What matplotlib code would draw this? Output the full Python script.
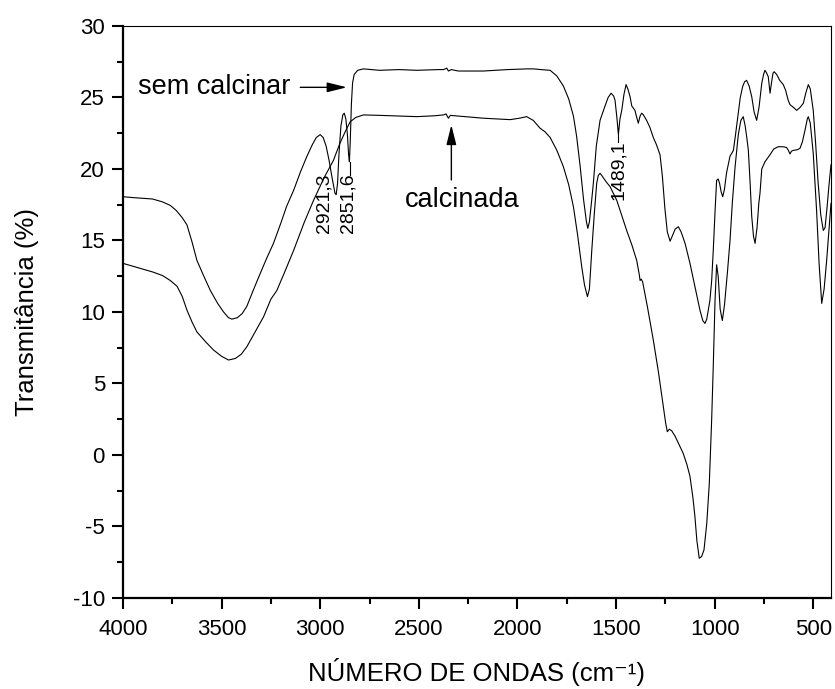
import numpy as np
import matplotlib
matplotlib.use("Agg")
import matplotlib.pyplot as plt
from matplotlib.ticker import MultipleLocator

plt.rcParams['font.family'] = ['Liberation Sans', 'DejaVu Sans']
plt.rcParams['axes.unicode_minus'] = False

# FTIR spectrum - sample before calcination (wavenumber cm-1, transmittance %)
wn_sem = [4000, 3950, 3900, 3850, 3800, 3760, 3730, 3700, 3676, 3650, 3625, 3590, 3557,
          3520, 3490, 3465, 3448, 3420, 3395, 3372, 3340, 3304, 3270, 3237, 3200, 3170,
          3135, 3100, 3067, 3040, 3020, 3000, 2985, 2970, 2955, 2940, 2925, 2919, 2912,
          2905, 2895, 2885, 2878, 2870, 2862, 2856, 2852, 2848, 2842, 2836, 2828, 2810,
          2781, 2700, 2600, 2510, 2400, 2375, 2358, 2350, 2335, 2300, 2172, 2050, 1950,
          1919, 1880, 1834, 1800, 1767, 1740, 1716, 1700, 1682, 1665, 1650, 1643, 1635,
          1625, 1615, 1600, 1581, 1556, 1540, 1525, 1512, 1505, 1495, 1488, 1480, 1471,
          1460, 1449, 1440, 1429, 1420, 1404, 1395, 1387, 1378, 1370, 1362, 1345, 1328,
          1311, 1295, 1277, 1265, 1252, 1240, 1226, 1215, 1200, 1184, 1170, 1150, 1125,
          1100, 1074, 1060, 1049, 1040, 1024, 1015, 1007, 998, 990, 982, 975, 967, 959,
          950, 940, 922, 913, 905, 895, 880, 870, 858, 848, 838, 825, 812, 800, 787, 775,
          761, 752, 745, 736, 728, 719, 712, 704, 698, 685, 670, 652, 640, 627, 618, 600,
          584, 567, 550, 538, 525, 515, 500, 488, 475, 462, 449, 440, 430, 420, 410]
tr_sem = [18.06, 18.0, 17.95, 17.9, 17.7, 17.45, 17.1, 16.6, 16.1, 14.9, 13.6, 12.5, 11.5,
          10.6, 10.0, 9.6, 9.5, 9.6, 9.9, 10.4, 11.5, 12.7, 13.8, 14.8, 16.2, 17.4,
          18.5, 19.8, 20.9, 21.7, 22.2, 22.4, 22.2, 21.6, 20.6, 19.4, 18.3, 18.2, 19.0,
          21.0, 23.0, 23.8, 23.9, 23.5, 22.4, 21.0, 20.5, 21.8, 24.5, 26.0, 26.6, 26.9,
          27.0, 26.9, 26.95, 26.9, 26.95, 26.95, 27.05, 26.85, 26.95, 26.85, 26.85, 26.95, 27.0,
          27.0, 26.95, 26.9, 26.5, 25.8, 24.9, 23.7, 22.3, 20.2, 17.9, 16.3, 15.85, 16.3,
          17.6, 19.0, 21.6, 23.4, 24.4, 25.0, 25.3, 25.1, 24.8, 23.5, 22.4, 23.5, 24.1,
          25.2, 25.9, 25.6, 25.06, 24.4, 24.1, 23.6, 23.2, 23.7, 23.9, 23.8, 23.4, 22.9,
          22.2, 21.7, 21.0, 19.5, 17.2, 15.6, 14.95, 15.3, 15.8, 15.96, 15.6, 14.8, 13.4,
          11.8, 10.1, 9.4, 9.2, 9.5, 10.8, 12.2, 14.3, 17.0, 19.2, 19.3, 19.0, 18.4, 18.06,
          18.6, 19.7, 20.9, 21.1, 21.3, 22.3, 23.9, 25.0, 25.76, 26.1, 26.2, 25.8, 25.06, 24.0, 23.4, 24.3,
          26.0, 26.6, 26.9, 26.7, 26.45, 25.3, 26.0, 26.7, 26.8, 26.6, 26.2, 25.9, 25.5, 24.8, 24.5, 24.3,
          24.1, 24.3, 24.6, 25.3, 25.9, 25.6, 24.1, 21.8, 19.0, 16.8, 15.7, 15.9, 17.3, 18.9, 20.3]

# FTIR spectrum - calcined sample
wn_cal = [4000, 3950, 3900, 3850, 3800, 3760, 3726, 3700, 3676, 3650, 3625, 3580, 3541,
          3500, 3465, 3430, 3400, 3372, 3330, 3287, 3250, 3220, 3180, 3135, 3080, 3034,
          2980, 2933, 2900, 2870, 2848, 2820, 2781, 2700, 2600, 2510, 2420, 2375, 2362,
          2350, 2340, 2300, 2172, 2100, 2037, 1990, 1953, 1920, 1885, 1860, 1834, 1800,
          1767, 1740, 1716, 1695, 1674, 1660, 1645, 1635, 1623, 1610, 1598, 1590, 1581,
          1570, 1550, 1530, 1496, 1470, 1446, 1420, 1395, 1382, 1378, 1372, 1365, 1340,
          1311, 1285, 1260, 1248, 1240, 1230, 1218, 1200, 1176, 1159, 1140, 1125, 1110,
          1100, 1090, 1078, 1066, 1054, 1040, 1027, 1015, 1007, 998, 990, 982, 972, 961,
          950, 935, 922, 910, 896, 880, 867, 855, 845, 837, 829, 820, 812, 803, 795, 785,
          776, 770, 761, 745, 719, 700, 677, 650, 635, 626, 618, 610, 601, 580, 567, 555,
          542, 530, 525, 515, 500, 483, 470, 457, 445, 432, 420, 410]
tr_cal = [13.4, 13.2, 13.0, 12.8, 12.55, 12.2, 11.8, 11.1, 10.14, 9.3, 8.6, 7.9, 7.34,
          6.9, 6.64, 6.75, 7.05, 7.57, 8.6, 9.67, 10.9, 11.5, 12.8, 14.3, 16.3, 17.8,
          19.4, 20.6, 21.8, 22.7, 23.3, 23.6, 23.78, 23.75, 23.7, 23.66, 23.72, 23.78, 23.85,
          23.55, 23.75, 23.7, 23.55, 23.5, 23.45, 23.55, 23.66, 23.4, 22.85, 22.6, 22.2, 21.3,
          20.16, 18.9, 17.36, 15.4, 13.17, 11.9, 11.07, 11.6, 14.3, 16.9, 19.0, 19.55, 19.7,
          19.5, 19.1, 18.76, 17.8, 16.7, 15.7, 14.7, 13.6, 12.6, 12.2, 12.3, 12.1, 10.3,
          8.04, 5.8, 3.38, 2.2, 1.63, 1.8, 1.7, 1.3, 0.6, 0.1, -0.7, -1.5, -3.0,
          -4.3, -6.0, -7.22, -7.1, -6.64, -4.8, -1.98, 2.5, 6.2, 10.8, 13.3, 12.5, 10.2, 9.4,
          10.5, 12.8, 15.0, 17.7, 20.2, 22.4, 23.4, 23.66, 23.0, 22.2, 21.3, 19.0, 16.7, 15.3, 14.8, 15.9,
          17.6, 18.3, 20.0, 20.5, 21.0, 21.4, 21.56, 21.55, 21.5, 21.3, 21.05, 21.25, 21.3, 21.35, 21.45, 21.9,
          22.7, 23.5, 23.66, 23.2, 21.1, 17.1, 13.3, 10.6, 11.6, 13.6, 15.8, 17.6]

fig = plt.figure(figsize=(8.35, 6.89), dpi=100)
ax = fig.add_axes([0.1473, 0.1321, 0.8479, 0.8302])

ax.plot(wn_sem, tr_sem, color='black', linewidth=0.8)
ax.plot(wn_cal, tr_cal, color='black', linewidth=0.8)

ax.set_xlim(4000, 410)
ax.set_ylim(-10, 30)
ax.xaxis.set_major_locator(MultipleLocator(500))
ax.xaxis.set_minor_locator(MultipleLocator(250))
ax.yaxis.set_major_locator(MultipleLocator(5))
ax.yaxis.set_minor_locator(MultipleLocator(2.5))

ax.tick_params(which='both', direction='out', top=False, right=False, width=1.5, labelsize=16)
ax.tick_params(which='major', length=8)
ax.tick_params(axis='x', which='major', pad=7)
ax.tick_params(axis='y', which='major', pad=5)
ax.tick_params(which='minor', length=4)

ax.spines['left'].set_linewidth(1.6)
ax.spines['bottom'].set_linewidth(1.6)
ax.spines['top'].set_linewidth(0.8)
ax.spines['right'].set_linewidth(0.8)

ax.set_xlabel('NÚMERO DE ONDAS (cm⁻¹)', fontsize=18.5, labelpad=13)
ax.set_ylabel('Transmitância (%)', fontsize=18.5, labelpad=24)

# sample labels with arrows
ax.text(3922, 25.7, 'sem calcinar', fontsize=19.5, va='center', ha='left')
ax.annotate('', xy=(2865, 25.71), xytext=(3101, 25.71),
            arrowprops=dict(arrowstyle='-|>,head_length=0.8,head_width=0.2',
                            mutation_scale=15, color='black', lw=1.0,
                            shrinkA=0, shrinkB=0))
ax.text(2278, 17.83, 'calcinada', fontsize=19.5, va='center', ha='center')
ax.annotate('', xy=(2335, 23.08), xytext=(2335, 19.23),
            arrowprops=dict(arrowstyle='-|>,head_length=0.8,head_width=0.2',
                            mutation_scale=15, color='black', lw=1.0,
                            shrinkA=0, shrinkB=0))

# peak labels
for xp, yb, txt in [(2980, 15.52, '2921,3'), (2861, 15.52, '2851,6'), (1485, 17.83, '1489,1')]:
    ax.text(xp, yb, txt, fontsize=14, rotation=90, ha='center', va='bottom')
ax.plot([2851, 2851], [19.6, 20.5], color='black', linewidth=0.8)
ax.plot([1489, 1489], [21.9, 22.4], color='black', linewidth=0.8)

fig.savefig('out.png', dpi=100)
